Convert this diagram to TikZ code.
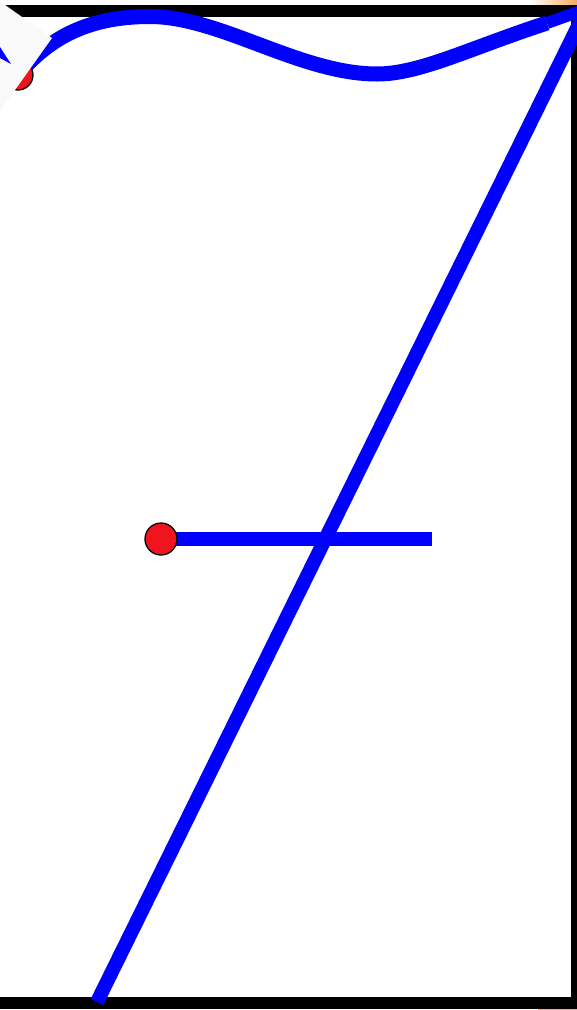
\documentclass[tikz,border=0pt]{standalone}
\usetikzlibrary{calc}
\definecolor{pblue}{RGB}{0,0,255}
\definecolor{pred}{RGB}{240,20,30}
\definecolor{porange}{RGB}{245,170,90}
\definecolor{pveil}{RGB}{249,249,249}
\tikzset{
  bluestroke/.style={draw=pblue, line width=14pt, line cap=butt},
  reddot/.style={circle, fill=pred, draw=black, line width=1.3pt, minimum size=32pt, inner sep=0pt},
  frame/.style={draw=black, line width=12pt}
}
\begin{document}
\begin{tikzpicture}[x=1pt,y=-1pt]
\useasboundingbox (0,0) rectangle (577,1010);
\clip (0,0) rectangle (577,1010);
\fill[white] (0,0) rectangle (577,1010);
% orange bits outside the frame
\shade[left color=white, right color=porange] (530,0) rectangle (577,5);
\fill[porange] (538,1008.5) rectangle (577,1010);
% frame
\draw[frame] (-30,11) rectangle (577,1003);
% coordinates
\coordinate (dstart) at (97,1002);
\coordinate (dend) at (586,10);
\coordinate (hend) at (432,539);
\coordinate (hp) at (161,539);
\coordinate (wp) at (18,75);
\coordinate (wpeak) at (150,16.5);
\coordinate (wlow) at (377,74);
\coordinate (wknee) at (547,23);
\coordinate (wend) at (586,9);
% diagonal and horizontal lines
\draw[bluestroke] (dstart) -- (dend);
\draw[bluestroke] (hp) -- (hend);
\node[reddot] (hdot) at (hp) {};
% wave
\draw[bluestroke, line width=15pt] (wp) .. controls (55,30) and (100,16.5) .. (wpeak)
  .. controls (220,16.5) and (300,74) .. (wlow)
  .. controls (420,74) and (470,48) .. (wknee);
\draw[pblue, line width=12pt] (wknee) -- (wend);
\node[reddot, minimum size=30pt] (wdot) at (wp) {};
% light veil over top-left corner
\fill[pveil] (52,38) -- (-42,-28) -- (-116,76) -- (-22,142) -- cycle;
\fill[pblue] (0,47) -- (11,64) -- (0,58) -- cycle;
\end{tikzpicture}
\end{document}
